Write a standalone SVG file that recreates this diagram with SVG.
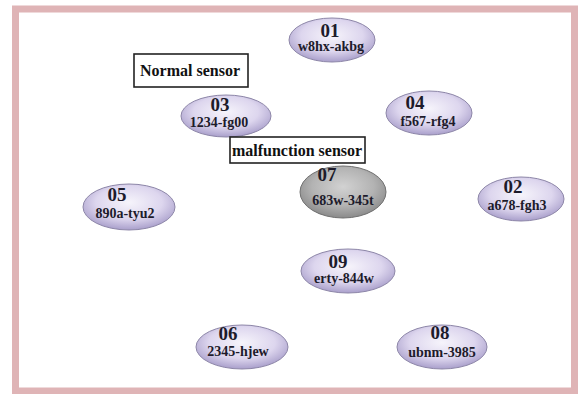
<svg xmlns="http://www.w3.org/2000/svg" width="585" height="394" viewBox="0 0 585 394">
<defs>
<radialGradient id="lav" cx="50%" cy="40%" r="60%">
<stop offset="0" stop-color="#f6f4fb"/>
<stop offset="0.6" stop-color="#ddd6ee"/>
<stop offset="1" stop-color="#a99fcb"/>
</radialGradient>
<radialGradient id="gry" cx="50%" cy="40%" r="60%">
<stop offset="0" stop-color="#d2d2d2"/>
<stop offset="0.6" stop-color="#b3b3b3"/>
<stop offset="1" stop-color="#8a8a8a"/>
</radialGradient>
</defs>
<style>
.node ellipse{fill:url(#lav);stroke:#8d86a8;stroke-width:1}
.node.bad ellipse{fill:url(#gry);stroke:#707070}
.id{font-family:"Liberation Serif",serif;font-weight:bold;font-size:19px;fill:#1d1b2b;text-anchor:middle}
.code{font-family:"Liberation Serif",serif;font-weight:bold;font-size:14px;fill:#1d1b2b;text-anchor:middle}
.lbl rect{fill:#fff;stroke:#222;stroke-width:1.6}
.lbl text{font-family:"Liberation Serif",serif;font-weight:bold;font-size:16px;fill:#111;text-anchor:middle}
</style>
<rect x="0" y="0" width="585" height="394" fill="#fff"/>
<rect x="15.5" y="9" width="559" height="382" fill="#fff" stroke="#dfb4b6" stroke-width="7"/>
<g id="connectors"></g>
<g id="n01" class="node"><ellipse cx="332" cy="40" rx="43" ry="22"/><text class="id" x="330" y="37">01</text><text class="code" x="331" y="51">w8hx-akbg</text></g>
<g id="n03" class="node"><ellipse cx="226" cy="116" rx="45" ry="21"/><text class="id" x="220" y="111">03</text><text class="code" x="219" y="127">1234-fg00</text></g>
<g id="n04" class="node"><ellipse cx="429" cy="113" rx="43" ry="22"/><text class="id" x="415" y="109">04</text><text class="code" x="428" y="126">f567-rfg4</text></g>
<g id="n07" class="node bad"><ellipse cx="343" cy="192" rx="43" ry="26"/><text class="id" x="327" y="181">07</text><text class="code" x="343" y="205">683w-345t</text></g>
<g id="n05" class="node"><ellipse cx="129" cy="207" rx="46" ry="23"/><text class="id" x="117" y="201">05</text><text class="code" x="125" y="218">890a-tyu2</text></g>
<g id="n02" class="node"><ellipse cx="521" cy="199" rx="43" ry="22"/><text class="id" x="513" y="193">02</text><text class="code" x="517" y="210">a678-fgh3</text></g>
<g id="n09" class="node"><ellipse cx="348" cy="271" rx="47" ry="22"/><text class="id" x="338" y="268">09</text><text class="code" x="344" y="283">erty-844w</text></g>
<g id="n06" class="node"><ellipse cx="242" cy="347" rx="46" ry="22"/><text class="id" x="228" y="340">06</text><text class="code" x="238" y="356">2345-hjew</text></g>
<g id="n08" class="node"><ellipse cx="442" cy="347" rx="45" ry="22"/><text class="id" x="440" y="339">08</text><text class="code" x="442" y="357">ubnm-3985</text></g>
<g id="normal-label" class="lbl"><rect x="134" y="54" width="114" height="33"/><text x="190" y="76">Normal sensor</text></g>
<g id="malfunction-label" class="lbl"><rect x="230" y="137" width="135" height="26"/><text x="297" y="156">malfunction sensor</text></g>
</svg>
